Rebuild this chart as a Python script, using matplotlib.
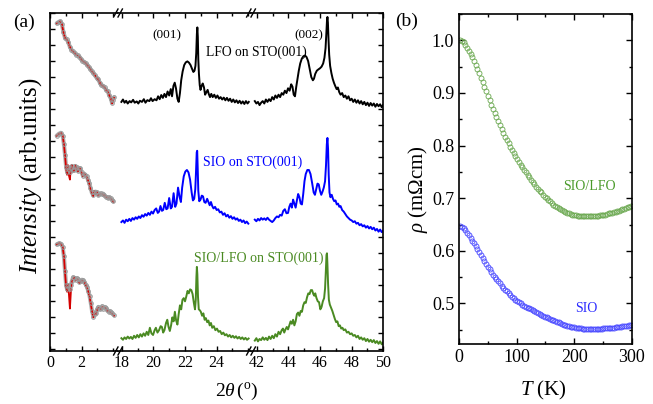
import numpy as np
import matplotlib
matplotlib.use('Agg')
import matplotlib.pyplot as plt
from matplotlib.ticker import MultipleLocator, FixedLocator, NullFormatter
from matplotlib.lines import Line2D

plt.rcParams['font.family'] = ['Liberation Serif', 'DejaVu Serif']
plt.rcParams['mathtext.fontset'] = 'custom'
plt.rcParams['mathtext.rm'] = 'Liberation Serif'
plt.rcParams['mathtext.it'] = 'Liberation Serif:italic'

# ---------------- panel (a): XRD, offset log intensity (arb.) ----------------
# low-angle XRR part: (2theta, measured, fit)
lfo_low = np.array([
    (0.42, 20.45, 20.45), (0.55, 20.55, 20.55), (0.65, 20.58, 20.58), (0.75, 20.4, 20.4),
    (0.85, 19.9, 19.9), (0.95, 19.55, 19.55), (1.05, 19.45, 19.45), (1.15, 19.3, 19.3),
    (1.25, 19.0, 19.0), (1.35, 18.82, 18.82), (1.45, 18.7, 18.7), (1.55, 18.62, 18.62),
    (1.65, 18.5, 18.5), (1.75, 18.45, 18.45), (1.85, 18.38, 18.38), (1.95, 18.25, 18.25),
    (2.05, 18.12, 18.12), (2.15, 18.05, 18.05), (2.25, 17.98, 17.98), (2.35, 17.85, 17.85),
    (2.45, 17.75, 17.75), (2.55, 17.6, 17.6), (2.65, 17.45, 17.45), (2.75, 17.35, 17.35),
    (2.85, 17.2, 17.2), (2.95, 17.05, 17.05), (3.05, 16.95, 16.95), (3.15, 16.75, 16.75),
    (3.25, 16.6, 16.6), (3.35, 16.55, 16.55), (3.45, 16.45, 16.45), (3.55, 16.3, 16.3),
    (3.65, 16.2, 16.2), (3.75, 15.95, 15.95), (3.85, 15.75, 15.75), (3.92, 15.5, 15.45),
    (3.98, 15.7, 15.65), (4.05, 15.85, 15.8)])

sio_low = np.array([
    (0.42, 13.44, 13.44), (0.55, 13.55, 13.55), (0.68, 13.62, 13.62), (0.8, 13.45, 13.45),
    (0.88, 12.9, 12.9), (0.95, 12.25, 12.2), (1.02, 11.5, 11.4), (1.08, 11.2, 11.0),
    (1.14, 11.5, 11.6), (1.2, 11.3, 10.95), (1.26, 11.15, 10.7), (1.32, 11.45, 11.5),
    (1.38, 11.55, 11.6), (1.45, 11.3, 11.2), (1.52, 11.3, 11.25), (1.6, 11.55, 11.6),
    (1.68, 11.5, 11.4), (1.76, 11.25, 11.2), (1.84, 11.4, 11.45), (1.92, 11.4, 11.35),
    (2.0, 11.15, 11.1), (2.08, 10.95, 10.9), (2.16, 11.05, 11.1), (2.24, 11.0, 10.95),
    (2.32, 10.9, 10.85), (2.4, 10.7, 10.65), (2.48, 10.5, 10.45), (2.56, 10.2, 10.1),
    (2.64, 9.9, 9.85), (2.72, 9.75, 9.65), (2.8, 9.9, 10.0), (2.88, 9.95, 9.8),
    (2.96, 9.9, 9.95), (3.04, 9.75, 9.7), (3.12, 9.8, 9.85), (3.2, 9.85, 9.75),
    (3.28, 9.78, 9.8), (3.36, 9.82, 9.7), (3.44, 9.72, 9.78), (3.52, 9.62, 9.6),
    (3.6, 9.6, 9.65), (3.68, 9.58, 9.55), (3.76, 9.6, 9.6), (3.84, 9.52, 9.5),
    (3.92, 9.45, 9.42), (4.0, 9.35, 9.3)])

sl_low = np.array([
    (0.42, 6.65, 6.65), (0.55, 6.72, 6.72), (0.68, 6.7, 6.7), (0.8, 6.5, 6.5),
    (0.88, 5.9, 5.9), (0.95, 5.0, 4.9), (1.02, 4.1, 4.0), (1.08, 3.85, 3.7),
    (1.14, 4.1, 4.15), (1.2, 3.95, 3.5), (1.26, 3.9, 2.65), (1.32, 4.15, 3.7),
    (1.38, 4.35, 4.4), (1.46, 4.6, 4.5), (1.54, 4.55, 4.6), (1.62, 4.45, 4.4),
    (1.7, 4.55, 4.5), (1.78, 4.5, 4.45), (1.86, 4.3, 4.25), (1.94, 4.35, 4.4),
    (2.02, 4.45, 4.4), (2.1, 4.42, 4.35), (2.18, 4.3, 4.3), (2.26, 4.15, 4.1),
    (2.34, 4.0, 3.95), (2.42, 3.75, 3.7), (2.5, 3.45, 3.4), (2.58, 3.0, 2.95),
    (2.66, 2.5, 2.45), (2.74, 2.15, 2.1), (2.82, 2.3, 2.4), (2.9, 2.35, 2.3),
    (2.98, 2.6, 2.55), (3.06, 2.75, 2.7), (3.14, 2.6, 2.65), (3.22, 2.7, 2.6),
    (3.3, 2.8, 2.75), (3.38, 2.65, 2.7), (3.46, 2.75, 2.7), (3.54, 2.7, 2.65),
    (3.62, 2.55, 2.5), (3.7, 2.45, 2.5), (3.78, 2.5, 2.45), (3.86, 2.42, 2.4),
    (3.94, 2.35, 2.3), (4.04, 2.25, 2.2)])

# (001) region
lfo_001 = np.array([
    (17.98, 15.55), (18.08, 15.7), (18.18, 15.5), (18.28, 15.62), (18.38, 15.45), (18.5, 15.6),
    (18.6, 15.52), (18.72, 15.68), (18.82, 15.5), (18.95, 15.58), (19.05, 15.45), (19.15, 15.62),
    (19.28, 15.55), (19.4, 15.72), (19.5, 15.5), (19.62, 15.66), (19.75, 15.6), (19.85, 15.78),
    (19.95, 15.6), (20.08, 15.72), (20.2, 15.65), (20.3, 15.9), (20.4, 15.72), (20.5, 15.98),
    (20.6, 15.8), (20.7, 16.05), (20.8, 15.85), (20.9, 16.2), (21.0, 15.95), (21.1, 16.35),
    (21.18, 15.9), (21.27, 16.55), (21.35, 16.75), (21.43, 16.4), (21.52, 15.75), (21.6, 15.55),
    (21.68, 16.1), (21.76, 16.9), (21.85, 17.45), (21.95, 17.85), (22.05, 18.02), (22.15, 18.08),
    (22.25, 18.0), (22.35, 17.85), (22.45, 17.6), (22.53, 17.42), (22.6, 17.5), (22.66, 17.8),
    (22.71, 18.6), (22.75, 19.8), (22.78, 20.2), (22.81, 19.6), (22.84, 18.2), (22.88, 17.3),
    (22.93, 16.6), (22.98, 16.3), (23.05, 16.55), (23.12, 16.7), (23.2, 16.45), (23.27, 16.0),
    (23.35, 16.15), (23.43, 16.3), (23.5, 16.05), (23.58, 15.85), (23.66, 16.05), (23.75, 15.85),
    (23.85, 16.0), (23.95, 15.8), (24.05, 15.95), (24.15, 15.75), (24.25, 15.85), (24.35, 15.7),
    (24.45, 15.82), (24.55, 15.65), (24.65, 15.8), (24.75, 15.62), (24.85, 15.75), (24.95, 15.55),
    (25.05, 15.7), (25.15, 15.52), (25.25, 15.65), (25.35, 15.48), (25.45, 15.62), (25.55, 15.45),
    (25.65, 15.58), (25.75, 15.42), (25.85, 15.6), (25.95, 15.45), (26.03, 15.55)])

sio_001 = np.array([
    (17.98, 8.05), (18.08, 8.15), (18.18, 8.0), (18.28, 8.2), (18.38, 8.1), (18.48, 8.25),
    (18.58, 8.12), (18.68, 8.3), (18.78, 8.2), (18.88, 8.35), (18.98, 8.25), (19.08, 8.4),
    (19.18, 8.3), (19.28, 8.48), (19.38, 8.38), (19.48, 8.55), (19.58, 8.45), (19.68, 8.62),
    (19.78, 8.5), (19.88, 8.7), (19.98, 8.58), (20.08, 8.8), (20.18, 8.9), (20.28, 8.62),
    (20.36, 8.7), (20.45, 9.05), (20.54, 8.75), (20.62, 8.8), (20.72, 9.25), (20.82, 8.85),
    (20.9, 8.9), (21.0, 9.55), (21.1, 8.9), (21.18, 9.0), (21.28, 9.85), (21.38, 9.0),
    (21.46, 9.2), (21.56, 10.2), (21.66, 9.6), (21.74, 9.3), (21.82, 10.2), (21.92, 10.9),
    (22.02, 11.2), (22.12, 11.3), (22.22, 11.15), (22.32, 10.7), (22.42, 9.9), (22.5, 9.4),
    (22.58, 9.5), (22.65, 10.1), (22.7, 11.3), (22.74, 12.4), (22.77, 12.5), (22.8, 11.5),
    (22.84, 10.0), (22.9, 9.35), (22.98, 9.45), (23.06, 9.7), (23.14, 9.65), (23.22, 9.3),
    (23.3, 9.25), (23.4, 9.5), (23.48, 9.3), (23.56, 9.1), (23.64, 9.3), (23.72, 9.05),
    (23.8, 8.9), (23.9, 9.0), (24.0, 8.8), (24.1, 8.85), (24.2, 8.65), (24.3, 8.7),
    (24.4, 8.5), (24.5, 8.6), (24.6, 8.4), (24.7, 8.5), (24.8, 8.32), (24.9, 8.42),
    (25.0, 8.25), (25.1, 8.35), (25.2, 8.2), (25.3, 8.28), (25.4, 8.12), (25.5, 8.2),
    (25.6, 8.05), (25.7, 8.15), (25.8, 7.98), (25.9, 8.08), (26.0, 7.95)])

sl_001 = np.array([
    (17.98, 0.8), (18.08, 0.7), (18.18, 0.85), (18.28, 0.75), (18.38, 0.9), (18.48, 0.78),
    (18.58, 0.88), (18.68, 0.75), (18.78, 0.95), (18.88, 0.82), (18.98, 1.0), (19.08, 0.85),
    (19.18, 1.05), (19.28, 0.9), (19.38, 1.1), (19.48, 0.95), (19.58, 1.2), (19.68, 1.0),
    (19.78, 1.45), (19.88, 1.1), (19.98, 1.0), (20.08, 1.3), (20.16, 1.45), (20.26, 1.15),
    (20.36, 1.3), (20.46, 1.55), (20.54, 1.5), (20.62, 1.15), (20.7, 1.3), (20.8, 1.75),
    (20.88, 1.95), (20.96, 1.5), (21.04, 1.25), (21.12, 1.6), (21.2, 2.1), (21.28, 1.85),
    (21.36, 2.45), (21.44, 1.9), (21.52, 1.65), (21.6, 2.3), (21.68, 2.85), (21.76, 2.6),
    (21.84, 3.2), (21.92, 3.3), (22.0, 3.1), (22.08, 3.4), (22.16, 3.75), (22.24, 3.6),
    (22.32, 3.85), (22.4, 3.8), (22.48, 3.55), (22.56, 3.0), (22.63, 2.6), (22.68, 3.2),
    (22.72, 4.6), (22.75, 5.25), (22.78, 4.8), (22.82, 3.4), (22.87, 2.6), (22.93, 2.55),
    (23.0, 2.45), (23.08, 2.2), (23.16, 2.35), (23.24, 1.95), (23.32, 2.05), (23.4, 1.8),
    (23.48, 1.9), (23.56, 1.6), (23.64, 1.75), (23.72, 1.45), (23.82, 1.55), (23.92, 1.3),
    (24.02, 1.4), (24.12, 1.2), (24.22, 1.25), (24.32, 1.05), (24.42, 1.15), (24.52, 0.98),
    (24.62, 1.05), (24.72, 0.9), (24.82, 1.0), (24.92, 0.85), (25.02, 0.95), (25.12, 0.82),
    (25.22, 0.92), (25.32, 0.78), (25.42, 0.88), (25.52, 0.75), (25.62, 0.85), (25.72, 0.72),
    (25.82, 0.82), (25.92, 0.7), (26.02, 0.78)])

# (002) region
lfo_002 = np.array([
    (41.88, 15.6), (41.98, 15.45), (42.08, 15.55), (42.18, 15.35), (42.28, 15.5), (42.38, 15.6),
    (42.48, 15.45), (42.58, 15.7), (42.68, 15.55), (42.78, 15.72), (42.88, 15.6), (42.98, 15.85),
    (43.08, 15.7), (43.18, 15.95), (43.28, 15.8), (43.38, 16.0), (43.48, 15.85), (43.58, 16.1),
    (43.68, 16.0), (43.78, 16.25), (43.88, 16.1), (43.98, 16.4), (44.08, 16.25), (44.18, 16.65),
    (44.26, 16.5), (44.34, 16.0), (44.42, 15.9), (44.5, 16.5), (44.58, 17.0), (44.66, 17.5),
    (44.75, 17.95), (44.85, 18.25), (44.95, 18.4), (45.05, 18.45), (45.15, 18.35), (45.25, 18.1),
    (45.35, 17.6), (45.45, 17.1), (45.55, 16.9), (45.62, 17.0), (45.7, 17.3), (45.8, 17.5),
    (45.9, 17.58), (46.0, 17.65), (46.1, 17.75), (46.2, 17.95), (46.28, 18.3), (46.35, 18.9),
    (46.4, 19.8), (46.44, 20.6), (46.47, 20.85), (46.5, 20.5), (46.54, 19.4), (46.58, 18.5),
    (46.64, 17.8), (46.72, 17.35), (46.8, 17.0), (46.88, 16.75), (46.96, 16.55), (47.05, 16.35),
    (47.13, 16.45), (47.22, 16.15), (47.3, 16.0), (47.4, 16.1), (47.5, 15.85), (47.6, 15.95),
    (47.7, 15.75), (47.8, 15.9), (47.9, 15.65), (48.0, 15.75), (48.1, 15.55), (48.2, 15.7),
    (48.3, 15.5), (48.4, 15.65), (48.5, 15.45), (48.6, 15.6), (48.7, 15.4), (48.8, 15.55),
    (48.9, 15.35), (49.0, 15.5), (49.1, 15.3), (49.2, 15.48), (49.3, 15.32), (49.4, 15.45),
    (49.5, 15.25), (49.6, 15.42), (49.7, 15.28), (49.8, 15.4), (49.9, 15.22), (49.98, 15.35)])

sio_002 = np.array([
    (41.88, 8.2), (41.98, 8.1), (42.08, 8.25), (42.18, 8.15), (42.28, 8.3), (42.38, 8.2),
    (42.48, 8.28), (42.58, 8.18), (42.68, 8.32), (42.78, 8.2), (42.88, 8.12), (42.98, 8.05),
    (43.08, 8.15), (43.18, 8.3), (43.28, 8.4), (43.38, 8.35), (43.48, 8.5), (43.58, 8.45),
    (43.68, 8.75), (43.78, 8.85), (43.88, 8.6), (43.98, 8.62), (44.06, 9.0), (44.14, 9.2),
    (44.22, 8.95), (44.3, 9.45), (44.38, 9.2), (44.46, 8.95), (44.54, 9.4), (44.62, 9.8),
    (44.7, 9.6), (44.78, 9.2), (44.86, 9.15), (44.94, 9.8), (45.02, 10.6), (45.1, 11.05),
    (45.2, 11.3), (45.3, 11.3), (45.4, 11.05), (45.5, 10.5), (45.6, 9.9), (45.68, 9.75),
    (45.76, 10.1), (45.84, 10.45), (45.92, 10.4), (46.0, 10.0), (46.08, 9.75), (46.16, 9.95),
    (46.24, 10.2), (46.32, 10.6), (46.38, 11.6), (46.43, 12.9), (46.47, 13.3), (46.51, 12.6),
    (46.55, 11.0), (46.6, 9.9), (46.66, 9.6), (46.74, 9.75), (46.82, 9.5), (46.9, 9.35),
    (46.98, 9.4), (47.06, 9.15), (47.14, 9.2), (47.22, 9.0), (47.3, 9.05), (47.4, 8.8),
    (47.5, 8.7), (47.6, 8.55), (47.7, 8.4), (47.8, 8.3), (47.9, 8.2), (48.0, 8.15),
    (48.1, 8.05), (48.2, 8.1), (48.3, 7.95), (48.4, 8.0), (48.5, 7.85), (48.6, 7.92),
    (48.7, 7.78), (48.8, 7.85), (48.9, 7.7), (49.0, 7.8), (49.1, 7.65), (49.2, 7.75),
    (49.3, 7.6), (49.4, 7.7), (49.5, 7.52), (49.6, 7.62), (49.7, 7.45), (49.8, 7.58),
    (49.9, 7.42), (49.98, 7.5)])

sl_002 = np.array([
    (41.88, 0.65), (41.98, 0.8), (42.08, 0.6), (42.18, 0.75), (42.28, 0.68), (42.38, 0.85),
    (42.48, 0.7), (42.58, 0.82), (42.68, 0.68), (42.78, 0.9), (42.88, 0.75), (42.98, 0.95),
    (43.08, 0.8), (43.18, 1.05), (43.28, 0.9), (43.38, 1.2), (43.48, 1.05), (43.58, 1.3),
    (43.66, 1.4), (43.74, 1.15), (43.82, 1.35), (43.9, 1.5), (43.98, 1.35), (44.06, 1.6),
    (44.14, 1.85), (44.22, 1.7), (44.3, 1.95), (44.38, 1.6), (44.46, 1.85), (44.54, 2.3),
    (44.62, 2.4), (44.7, 2.2), (44.78, 2.5), (44.86, 2.45), (44.94, 2.85), (45.02, 3.05),
    (45.1, 3.0), (45.18, 3.35), (45.26, 3.6), (45.34, 3.55), (45.42, 3.8), (45.5, 3.8),
    (45.58, 3.55), (45.64, 3.45), (45.7, 3.6), (45.78, 3.3), (45.86, 3.1), (45.94, 3.05),
    (46.02, 2.6), (46.1, 2.75), (46.18, 3.1), (46.26, 3.3), (46.32, 3.9), (46.37, 5.0),
    (46.41, 6.0), (46.44, 6.1), (46.47, 5.4), (46.51, 4.2), (46.56, 3.2), (46.62, 2.9),
    (46.7, 2.7), (46.78, 2.5), (46.86, 2.25), (46.94, 2.0), (47.02, 1.8), (47.1, 1.85),
    (47.18, 1.55), (47.26, 1.6), (47.34, 1.4), (47.42, 1.45), (47.5, 1.3), (47.6, 1.35),
    (47.7, 1.15), (47.8, 1.2), (47.9, 1.05), (48.0, 1.1), (48.1, 0.95), (48.2, 1.0),
    (48.3, 0.85), (48.4, 0.95), (48.5, 0.75), (48.6, 0.85), (48.7, 0.7), (48.8, 0.8),
    (48.9, 0.62), (49.0, 0.75), (49.1, 0.58), (49.2, 0.7), (49.3, 0.55), (49.4, 0.68),
    (49.5, 0.5), (49.6, 0.62), (49.7, 0.45), (49.8, 0.6), (49.9, 0.42), (49.98, 0.52)])

# ---------------- panel (b): resistivity ----------------
T = np.arange(2, 300, 3)
rho_sl = [1.000, 0.999, 0.996, 0.992, 0.986, 0.980, 0.974, 0.968, 0.961, 0.953,
          0.946, 0.937, 0.929, 0.921, 0.912, 0.903, 0.895, 0.887, 0.878, 0.870,
          0.862, 0.854, 0.846, 0.839, 0.831, 0.824, 0.817, 0.811, 0.804, 0.798,
          0.792, 0.786, 0.780, 0.775, 0.769, 0.764, 0.759, 0.754, 0.749, 0.744,
          0.740, 0.735, 0.731, 0.727, 0.722, 0.718, 0.714, 0.711, 0.707, 0.703,
          0.700, 0.697, 0.694, 0.691, 0.688, 0.685, 0.683, 0.681, 0.679, 0.677,
          0.675, 0.673, 0.672, 0.671, 0.670, 0.669, 0.668, 0.668, 0.667, 0.667,
          0.666, 0.666, 0.666, 0.666, 0.666, 0.666, 0.666, 0.666, 0.667, 0.667,
          0.667, 0.668, 0.668, 0.669, 0.669, 0.670, 0.671, 0.671, 0.672, 0.673,
          0.674, 0.675, 0.676, 0.678, 0.679, 0.680, 0.681, 0.683, 0.684, 0.685]
rho_sio = [0.647, 0.646, 0.643, 0.639, 0.634, 0.630, 0.625, 0.619, 0.614, 0.609,
           0.603, 0.597, 0.592, 0.586, 0.581, 0.575, 0.570, 0.565, 0.560, 0.555,
           0.551, 0.546, 0.542, 0.538, 0.534, 0.530, 0.526, 0.523, 0.519, 0.516,
           0.513, 0.510, 0.507, 0.504, 0.502, 0.500, 0.498, 0.496, 0.494, 0.492,
           0.491, 0.489, 0.487, 0.485, 0.483, 0.481, 0.480, 0.478, 0.477, 0.475,
           0.474, 0.472, 0.471, 0.469, 0.468, 0.466, 0.465, 0.464, 0.463, 0.461,
           0.460, 0.459, 0.458, 0.457, 0.456, 0.455, 0.455, 0.454, 0.454, 0.453,
           0.453, 0.452, 0.452, 0.452, 0.452, 0.452, 0.452, 0.452, 0.452, 0.452,
           0.452, 0.452, 0.452, 0.453, 0.453, 0.453, 0.453, 0.454, 0.454, 0.454,
           0.455, 0.455, 0.456, 0.456, 0.457, 0.457, 0.458, 0.458, 0.459, 0.459]

W, H = 653, 404
def fx(px):
    return px / W
def fy(py):
    return 1 - py / H

c_lfo = 'black'
c_sio = '#0000ff'
c_sl = '#4a8a22'
c_fit = '#d40000'
c_meas = '#9a9a9a'

fig = plt.figure(figsize=(6.53, 4.04), dpi=100)

# panel (a) as three x segments
a_top, a_bot = 13, 351
edges = [50, 118, 251, 383.3]
xlims = [(0, 4.30), (17.766, 26.17), (41.64, 50)]
axs = []
for i in range(3):
    ax = fig.add_axes([fx(edges[i]), fy(a_bot), fx(edges[i + 1] - edges[i]), (a_bot - a_top) / H])
    ax.set_xlim(*xlims[i])
    ax.set_ylim(0, 21.1)
    for s in ax.spines.values():
        s.set_linewidth(1.2)
    axs.append(ax)

ax1, ax2, ax3 = axs
ax1.spines['right'].set_visible(False)
ax2.spines['left'].set_visible(False)
ax2.spines['right'].set_visible(False)
ax3.spines['left'].set_visible(False)

for ax in axs:
    ax.tick_params(which='both', direction='in', top=True, labelsize=11.5, pad=3, width=1)
    ax.tick_params(which='major', length=3.5)
    ax.tick_params(which='minor', length=2)
    ax.yaxis.set_major_locator(MultipleLocator(1, offset=0.1))
    ax.yaxis.set_major_formatter(NullFormatter())
ax1.tick_params(axis='y', left=True, right=False)
ax2.tick_params(axis='y', left=False, right=False)
ax3.tick_params(axis='y', left=False, right=True)

ax1.xaxis.set_major_locator(FixedLocator([0, 2]))
ax1.xaxis.set_minor_locator(FixedLocator([1, 3, 4]))
ax2.xaxis.set_major_locator(FixedLocator([18, 20, 22, 24]))
ax2.xaxis.set_minor_locator(FixedLocator([19, 21, 23, 25, 26]))
ax3.xaxis.set_major_locator(FixedLocator([42, 44, 46, 48, 50]))
ax3.xaxis.set_minor_locator(FixedLocator([43, 45, 47, 49]))

# low angle: measured (grey circles) + fit (red)
for d in (lfo_low, sio_low, sl_low):
    ax1.plot(d[:, 0], d[:, 1], color='#b5b5b5', lw=3.0, solid_capstyle='round')
    ax1.plot(d[:, 0], d[:, 2], color=c_fit, lw=1.3)
    ax1.plot(d[:, 0], d[:, 1], 'o', ms=2.6, mfc='none', mec=c_meas, mew=0.7)

for d, c in ((lfo_001, c_lfo), (sio_001, c_sio), (sl_001, c_sl)):
    ax2.plot(d[:, 0], d[:, 1], color=c, lw=1.4)
for d, c in ((lfo_002, c_lfo), (sio_002, c_sio), (sl_002, c_sl)):
    ax3.plot(d[:, 0], d[:, 1], color=c, lw=1.4)

# axis break marks
def draw_break(xp):
    for yp in (a_top, a_bot):
        for dx in (-2.2, 2.2):
            fig.add_artist(Line2D([fx(xp + dx - 2.2), fx(xp + dx + 2.2)],
                                  [fy(yp + 4), fy(yp - 4)], color='black', lw=1.0))
draw_break(118)
draw_break(251)

fig.text(fx(24), fy(22), '(a)', fontsize=14, ha='center', va='center')
fig.text(fx(31), fy(176), r'$\mathit{Intensity}$ (arb.units)', fontsize=18,
         rotation=90, ha='center', va='center')
fig.text(fx(237), fy(391), r'$2\theta\,(^{\rm o})$', fontsize=14, ha='center', va='center')

fig.text(fx(167), fy(35), '(001)', fontsize=9.5, ha='center', va='center', color=c_lfo)
fig.text(fx(309), fy(35), '(002)', fontsize=9.5, ha='center', va='center', color=c_lfo)
fig.text(fx(256), fy(52), 'LFO on STO(001)', fontsize=9.8, ha='center', va='center', color=c_lfo)
fig.text(fx(253), fy(162), 'SIO on STO(001)', fontsize=10, ha='center', va='center', color=c_sio)
fig.text(fx(259), fy(258), 'SIO/LFO on STO(001)', fontsize=10, ha='center', va='center', color=c_sl)

# panel (b)
axb = fig.add_axes([fx(459), fy(344), fx(631.7 - 459), (344 - 14) / H])
axb.plot(T, rho_sl, 'o', ms=3.6, mfc='none', mec='#6aa84f', mew=0.6)
axb.plot(T, rho_sio, 'o', ms=3.6, mfc='none', mec='#4848ff', mew=0.6)
axb.set_xlim(0, 300)
axb.set_ylim(0.423, 1.05)
axb.xaxis.set_major_locator(MultipleLocator(100))
axb.xaxis.set_minor_locator(MultipleLocator(50))
axb.yaxis.set_major_locator(MultipleLocator(0.1))
axb.yaxis.set_minor_locator(MultipleLocator(0.05))
axb.tick_params(which='both', direction='in', top=True, right=True, labelsize=13, width=1)
axb.tick_params(which='major', length=4.5)
axb.tick_params(which='minor', length=2.5)
for s in axb.spines.values():
    s.set_linewidth(1.2)

fig.text(fx(407), fy(21), '(b)', fontsize=14, ha='center', va='center')
fig.text(fx(418), fy(189), r'$\rho$ (m$\Omega$cm)', fontsize=15, rotation=90,
         ha='center', va='center')
fig.text(fx(543), fy(390), r'$T$ (K)', fontsize=15, ha='center', va='center')
fig.text(fx(589), fy(187), 'SIO/LFO', fontsize=10, ha='center', va='center', color='#4a9a2a')
fig.text(fx(586), fy(309), 'SIO', fontsize=10, ha='center', va='center', color='#2a2aff')

fig.savefig('out.png', dpi=100)
